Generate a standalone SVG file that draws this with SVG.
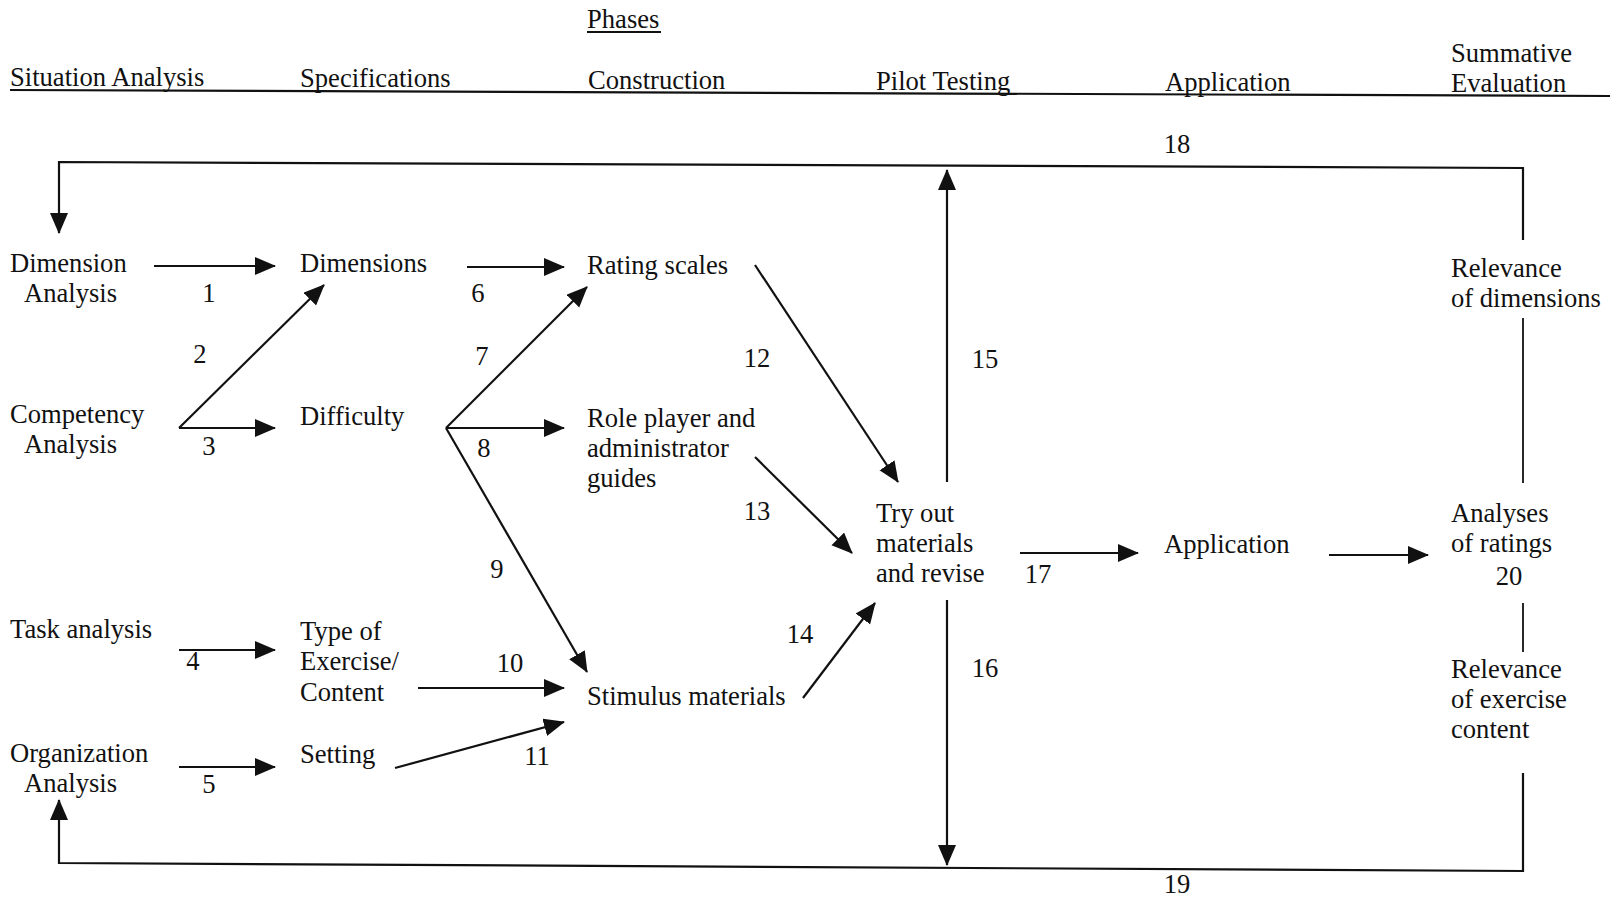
<svg xmlns="http://www.w3.org/2000/svg" width="1610" height="899" viewBox="0 0 1610 899">
<defs>
<style>
text{font-family:"Liberation Serif","Times New Roman",serif;font-size:26.6px;fill:#111}
.n{text-anchor:middle}
.ln{stroke:#111;stroke-width:2.2;fill:none}
.thin{stroke:#111;stroke-width:1.8;fill:none}
.ar{stroke:#111;stroke-width:2.2;fill:none;marker-end:url(#ah)}
</style>
<marker id="ah" markerUnits="userSpaceOnUse" markerWidth="24" markerHeight="20" refX="20" refY="9" orient="auto">
<path d="M0,0 L21,9 L0,18 Z" fill="#111"/>
</marker>
</defs>
<rect width="1610" height="899" fill="#fff"/>
<g id="header">
<text x="587" y="28">Phases</text>
<line x1="587" y1="32" x2="661" y2="32" class="thin"/>
<text x="10" y="86">Situation Analysis</text>
<text x="300" y="87">Specifications</text>
<text x="588" y="89">Construction</text>
<text x="876" y="90">Pilot Testing</text>
<text x="1165" y="91">Application</text>
<text x="1451" y="62">Summative</text>
<text x="1451" y="92">Evaluation</text>
<line x1="10" y1="90" x2="1610" y2="96" class="ln"/>
</g>
<g id="connectors">
<path d="M1523,240 L1523,168 L59,162 L59,233" class="ar"/>
<path d="M1523,773 L1523,871 L59,863 L59,800" class="ar"/>
<line x1="1523" y1="318" x2="1523" y2="483" class="thin"/>
<line x1="1523" y1="603" x2="1523" y2="652" class="thin"/>
<line x1="947" y1="482" x2="947" y2="170" class="ar"/>
<line x1="947" y1="600" x2="947" y2="865" class="ar"/>
<line x1="154" y1="266" x2="275" y2="266" class="ar"/>
<line x1="179" y1="428" x2="324" y2="285" class="ar"/>
<line x1="179" y1="428" x2="275" y2="428" class="ar"/>
<line x1="179" y1="650" x2="275" y2="650" class="ar"/>
<line x1="179" y1="767" x2="275" y2="767" class="ar"/>
<line x1="467" y1="267" x2="564" y2="267" class="ar"/>
<line x1="446" y1="428" x2="587" y2="287" class="ar"/>
<line x1="446" y1="428" x2="564" y2="428" class="ar"/>
<line x1="446" y1="428" x2="587" y2="672" class="ar"/>
<line x1="418" y1="688" x2="564" y2="688" class="ar"/>
<line x1="395" y1="768" x2="564" y2="722" class="ar"/>
<line x1="755" y1="265" x2="898" y2="482" class="ar"/>
<line x1="755" y1="457" x2="852" y2="553" class="ar"/>
<line x1="803" y1="698" x2="875" y2="603" class="ar"/>
<line x1="1020" y1="553" x2="1138" y2="553" class="ar"/>
<line x1="1329" y1="555" x2="1428" y2="555" class="ar"/>
</g>
<g id="labels">
<text class="n" x="209" y="302">1</text>
<text class="n" x="200" y="363">2</text>
<text class="n" x="209" y="455">3</text>
<text class="n" x="193" y="670">4</text>
<text class="n" x="209" y="793">5</text>
<text class="n" x="478" y="302">6</text>
<text class="n" x="482" y="365">7</text>
<text class="n" x="484" y="457">8</text>
<text class="n" x="497" y="578">9</text>
<text class="n" x="510" y="672">10</text>
<text class="n" x="537" y="765">11</text>
<text class="n" x="757" y="367">12</text>
<text class="n" x="757" y="520">13</text>
<text class="n" x="800" y="643">14</text>
<text class="n" x="985" y="368">15</text>
<text class="n" x="985" y="677">16</text>
<text class="n" x="1038" y="583">17</text>
<text class="n" x="1177" y="153">18</text>
<text class="n" x="1177" y="893">19</text>
<text class="n" x="1509" y="585">20</text>
</g>
<g id="dimension-analysis"><text x="10" y="272">Dimension</text><text x="24" y="302">Analysis</text></g>
<g id="competency-analysis"><text x="10" y="423">Competency</text><text x="24" y="453">Analysis</text></g>
<g id="task-analysis"><text x="10" y="638">Task analysis</text></g>
<g id="organization-analysis"><text x="10" y="762">Organization</text><text x="24" y="792">Analysis</text></g>
<g id="dimensions"><text x="300" y="272">Dimensions</text></g>
<g id="difficulty"><text x="300" y="425">Difficulty</text></g>
<g id="type-of-exercise"><text x="300" y="640">Type of</text><text x="300" y="670">Exercise/</text><text x="300" y="701">Content</text></g>
<g id="setting"><text x="300" y="763">Setting</text></g>
<g id="rating-scales"><text x="587" y="274">Rating scales</text></g>
<g id="role-player"><text x="587" y="427">Role player and</text><text x="587" y="457">administrator</text><text x="587" y="487">guides</text></g>
<g id="stimulus-materials"><text x="587" y="705">Stimulus materials</text></g>
<g id="try-out"><text x="876" y="522">Try out</text><text x="876" y="552">materials</text><text x="876" y="582">and revise</text></g>
<g id="application"><text x="1164" y="553">Application</text></g>
<g id="analyses"><text x="1451" y="522">Analyses</text><text x="1451" y="552">of ratings</text></g>
<g id="relevance-dimensions"><text x="1451" y="277">Relevance</text><text x="1451" y="307">of dimensions</text></g>
<g id="relevance-content"><text x="1451" y="678">Relevance</text><text x="1451" y="708">of exercise</text><text x="1451" y="738">content</text></g>
</svg>
